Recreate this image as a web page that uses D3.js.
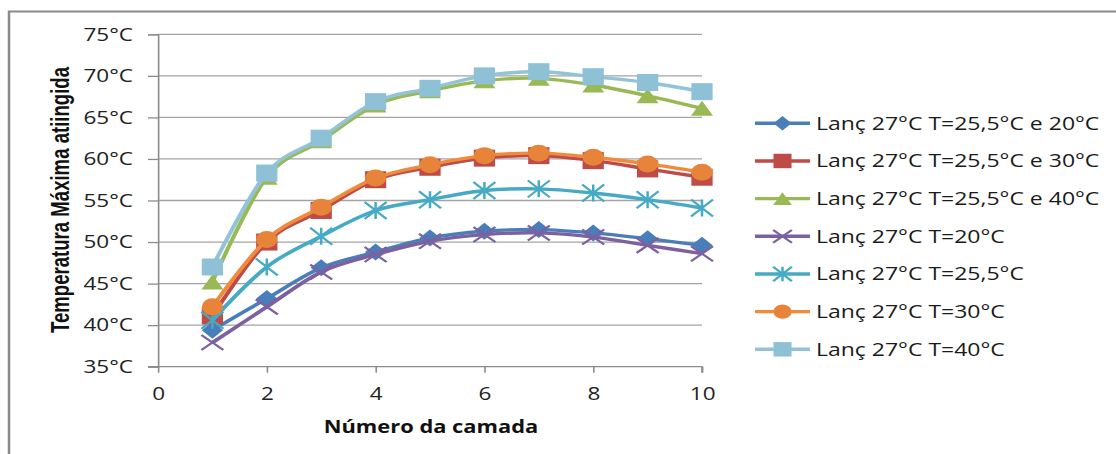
<!DOCTYPE html>
<html>
<head>
<meta charset="utf-8">
<script src="https://cdn.jsdelivr.net/npm/d3@7"></script>
<style>
  html, body { margin: 0; padding: 0; background: #fff; }
  svg { display: block; }
</style>
</head>
<body>
<svg id="chart" width="1116" height="454"></svg>
<script>
// Layer numbers (x values)
const layers = [1, 2, 3, 4, 5, 6, 7, 8, 9, 10];

// Maximum temperature reached per layer, one array per scenario
const lanc255e20 = [39.4, 43.2, 46.9, 48.8, 50.5, 51.3, 51.5, 51.1, 50.4, 49.6];
const lanc255e30 = [41.1, 50.0, 53.8, 57.5, 59.0, 60.1, 60.4, 59.8, 58.8, 57.8];
const lanc255e40 = [45.2, 57.8, 62.2, 66.5, 68.2, 69.4, 69.7, 68.9, 67.6, 66.1];
const lanc20     = [37.9, 42.2, 46.4, 48.5, 50.1, 50.9, 51.1, 50.6, 49.6, 48.6];
const lanc255    = [40.6, 47.0, 50.7, 53.8, 55.1, 56.2, 56.4, 55.9, 55.1, 54.1];
const lanc30     = [42.2, 50.3, 54.2, 57.7, 59.3, 60.4, 60.7, 60.2, 59.4, 58.4];
const lanc40     = [47.0, 58.3, 62.5, 66.9, 68.5, 70.0, 70.5, 69.9, 69.2, 68.1];

const seriesNames = [
  "Lanç 27°C T=25,5°C e 20°C",
  "Lanç 27°C T=25,5°C e 30°C",
  "Lanç 27°C T=25,5°C e 40°C",
  "Lanç 27°C T=20°C",
  "Lanç 27°C T=25,5°C",
  "Lanç 27°C T=30°C",
  "Lanç 27°C T=40°C"
];
const seriesValues = [lanc255e20, lanc255e30, lanc255e40, lanc20, lanc255, lanc30, lanc40];

// Axis ticks
const xTicks = [0, 2, 4, 6, 8, 10];
const yTicks = [35, 40, 45, 50, 55, 60, 65, 70, 75];

const xTitle = "Número da camada";
const yTitle = "Temperatura Máxima atiingida";

// Styling per series
const lineColors   = ["#4A7EBB", "#BE4B48", "#98B954", "#7D60A0", "#46AAC5", "#F08B3C", "#93C3D7"];
const markerColors = ["#4A7EBB", "#BE4B48", "#98B954", "#7D60A0", "#46AAC5", "#E8843A", "#8FC1D6"];
const markerKinds  = ["diamond", "square", "triangle", "x", "star", "circle", "square"];

// Everything is laid out in a narrower frame and stretched horizontally
const SX = 1.25;
const svg = d3.select("#chart");
const root = svg.append("g").attr("transform", `scale(${SX},1)`);

const x = d3.scaleLinear().domain([0, 10]).range([158 / SX, 702 / SX]);
const y = d3.scaleLinear().domain([35, 75]).range([366.7, 34.3]);

const textFont = "'Open Sans', 'DejaVu Sans', sans-serif";

// Chart frame (top and left edges)
root.append("path")
  .attr("d", `M${9 / SX},454 L${9 / SX},11.5 L${1116 / SX},11.5`)
  .attr("fill", "none").attr("stroke", "#8a8a8a").attr("stroke-width", 2);

// Horizontal gridlines
root.append("g").selectAll("line")
  .data(yTicks.filter(d => d > 35))
  .join("line")
  .attr("x1", x(0)).attr("x2", x(10))
  .attr("y1", d => y(d)).attr("y2", d => y(d))
  .attr("stroke", "#a3a3a3").attr("stroke-width", 1.3);

// Y axis
const yAxis = d3.axisLeft(y).tickValues(yTicks).tickSize(8).tickPadding(6)
  .tickFormat(d => d + "°C");
const gy = root.append("g").attr("transform", `translate(${x(0)},0)`).call(yAxis);
gy.select(".domain").attr("stroke", "#8c8c8c").attr("stroke-width", 1.3);
gy.selectAll(".tick line").attr("stroke", "#8c8c8c").attr("stroke-width", 1.3);
gy.selectAll(".tick text")
  .attr("font-family", textFont).attr("font-size", 18).attr("fill", "#222")
  .attr("x", -(x(0) - 133 / SX));

// X axis
const xAxis = d3.axisBottom(x).tickValues(xTicks).tickSize(6).tickPadding(10);
const gx = root.append("g").attr("transform", `translate(0,${y(35)})`).call(xAxis);
gx.select(".domain").attr("stroke", "#8c8c8c").attr("stroke-width", 1.3)
  .attr("d", `M${x(0) - 8},0H${x(10)}V6`);
gx.selectAll(".tick line").attr("stroke", "#8c8c8c").attr("stroke-width", 1.3);
gx.selectAll(".tick text")
  .attr("font-family", textFont).attr("font-size", 18).attr("fill", "#222")
  .attr("dy", null).attr("y", 33.5);

// Axis titles
root.append("text")
  .attr("x", 431 / SX).attr("y", 433)
  .attr("text-anchor", "middle")
  .attr("font-family", textFont).attr("font-weight", "bold").attr("font-size", 17.5)
  .attr("fill", "#111")
  .text(xTitle);

root.append("text")
  .attr("transform", `translate(${69 / SX},${200}) rotate(-90)`)
  .attr("text-anchor", "middle")
  .attr("font-family", "'Liberation Sans Narrow', 'Liberation Sans', sans-serif")
  .attr("font-weight", "bold").attr("font-size", 21)
  .attr("textLength", 266).attr("lengthAdjust", "spacingAndGlyphs")
  .attr("fill", "#111")
  .text(yTitle);

// Marker drawing helper (natural, unstretched units)
function drawMarker(sel, kind, color, s) {
  const h = 8.5 * s;
  if (kind === "diamond") {
    sel.append("path").attr("d", `M0,${-h}L${h},0L0,${h}L${-h},0Z`).attr("fill", color);
  } else if (kind === "square") {
    sel.append("rect").attr("x", -h).attr("y", -h).attr("width", 2 * h).attr("height", 2 * h).attr("fill", color);
  } else if (kind === "triangle") {
    const w = 8.8 * s, t = 7.5 * s;
    sel.append("path").attr("d", `M0,${-t}L${w},${t}L${-w},${t}Z`).attr("fill", color);
  } else if (kind === "x") {
    const w = 8.8 * s, t = 7.5 * s;
    sel.append("path").attr("d", `M${-w},${-t}L${w},${t}M${-w},${t}L${w},${-t}`)
      .attr("stroke", color).attr("stroke-width", 2).attr("fill", "none");
  } else if (kind === "star") {
    const w = 8.8 * s, t = 8.5 * s;
    sel.append("path").attr("d", `M${-w},${-t}L${w},${t}M${-w},${t}L${w},${-t}M0,${-t}L0,${t}`)
      .attr("stroke", color).attr("stroke-width", 2).attr("fill", "none");
  } else if (kind === "circle") {
    sel.append("circle").attr("r", h).attr("fill", color);
  }
}

// Series lines and markers
const line = d3.line()
  .x((d, i) => x(layers[i]))
  .y(d => y(d))
  .curve(d3.curveCardinal.tension(0));

seriesValues.forEach((vals, k) => {
  const g = root.append("g");
  g.append("path")
    .attr("d", line(vals))
    .attr("fill", "none")
    .attr("stroke", lineColors[k])
    .attr("stroke-width", 3.4)
    .attr("stroke-linejoin", "round");
  g.selectAll("g.m")
    .data(vals)
    .join("g")
    .attr("class", "m")
    .attr("transform", (d, i) => `translate(${x(layers[i])},${y(d)})`)
    .each(function () { drawMarker(d3.select(this), markerKinds[k], markerColors[k], 1); });
});

// Legend
const legend = root.append("g");
const rowY = d3.scaleLinear().domain([0, 6]).range([123.3, 349.3]);
seriesNames.forEach((name, k) => {
  const row = legend.append("g").attr("transform", `translate(0,${rowY(k)})`);
  row.append("line")
    .attr("x1", 755 / SX).attr("x2", 810 / SX)
    .attr("stroke", lineColors[k]).attr("stroke-width", 3.4);
  const m = row.append("g").attr("transform", `translate(${782.5 / SX},0)`);
  drawMarker(m, markerKinds[k], markerColors[k], 0.85);
  row.append("text")
    .attr("x", 816 / SX).attr("y", 6.5)
    .attr("font-family", textFont).attr("font-size", 18.4).attr("fill", "#1a1a1a")
    .text(name);
});
</script>
</body>
</html>
